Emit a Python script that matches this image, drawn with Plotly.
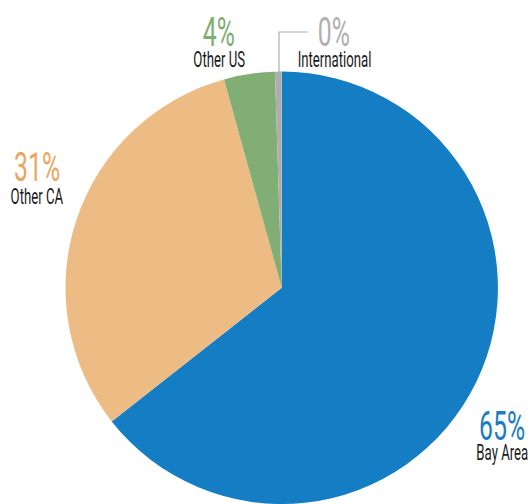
import plotly.graph_objects as go

categories = ["Bay Area", "Other CA", "Other US", "International"]
values = [64.4, 31.3, 3.8, 0.5]
pct_labels = ["65%", "31%", "4%", "0%"]
colors = ["#157dc3", "#edbc85", "#80ae74", "#aeaeae"]
text_colors = ["#1a7cc2", "#eaa660", "#7fae72", "#b0b0b0"]

W, H = 530, 504
FONT = "Roboto"

fig = go.Figure(go.Pie(
    labels=categories,
    values=values,
    sort=False,
    direction="clockwise",
    rotation=0,
    marker=dict(colors=colors, line=dict(width=0)),
    textinfo="none",
    hoverinfo="label+percent",
    domain=dict(x=[(281.7 - 218) / W, (281.7 + 218) / W], y=[0, 0.858]),
    showlegend=False,
))

# label placement (pixel positions: x-center, y-center of number, y-center of name)
pos = [
    (502, 426, 452),
    (37, 168, 197),
    (219, 33, 59),
    (334, 33, 59),
]

anns = []
for cat, pct, tc, (px, py1, py2) in zip(categories, pct_labels, text_colors, pos):
    anns.append(dict(x=px / W, y=1 - py1 / H, xref="paper", yref="paper",
                     text=pct, showarrow=False, xanchor="center", yanchor="middle",
                     align="center",
                     font=dict(family=FONT, size=40, color=tc, weight=400)))
    anns.append(dict(x=px / W, y=1 - py2 / H, xref="paper", yref="paper",
                     text=cat, showarrow=False, xanchor="center", yanchor="middle",
                     align="center",
                     font=dict(family=FONT, size=22, color="#1a1a1a")))

# leader line for International
shapes = [
    dict(type="path", xref="paper", yref="paper",
         path=f"M {279/W},{1-72/H} L {279/W},{1-32/H} L {308/W},{1-32/H}",
         line=dict(color="#aeaeae", width=1.2)),
]

fig.update_layout(
    width=W, height=H,
    margin=dict(l=0, r=0, t=0, b=0),
    paper_bgcolor="white",
    plot_bgcolor="white",
    annotations=anns,
    shapes=shapes,
)

# condense the label glyphs horizontally (text stays real SVG text)
post = """
document.body.style.margin='0';
document.body.style.overflow='hidden';
document.querySelectorAll('text.annotation-text').forEach(function(t){
  var big = parseFloat(t.style.fontSize) > 30;
  t.style.transformBox='fill-box';
  t.style.transformOrigin='center';
  t.style.transform= big ? 'scaleX(0.62)' : 'scaleX(0.6)';
});
"""
fig.write_html("out.html", post_script=post, config={"displayModeBar": False})
